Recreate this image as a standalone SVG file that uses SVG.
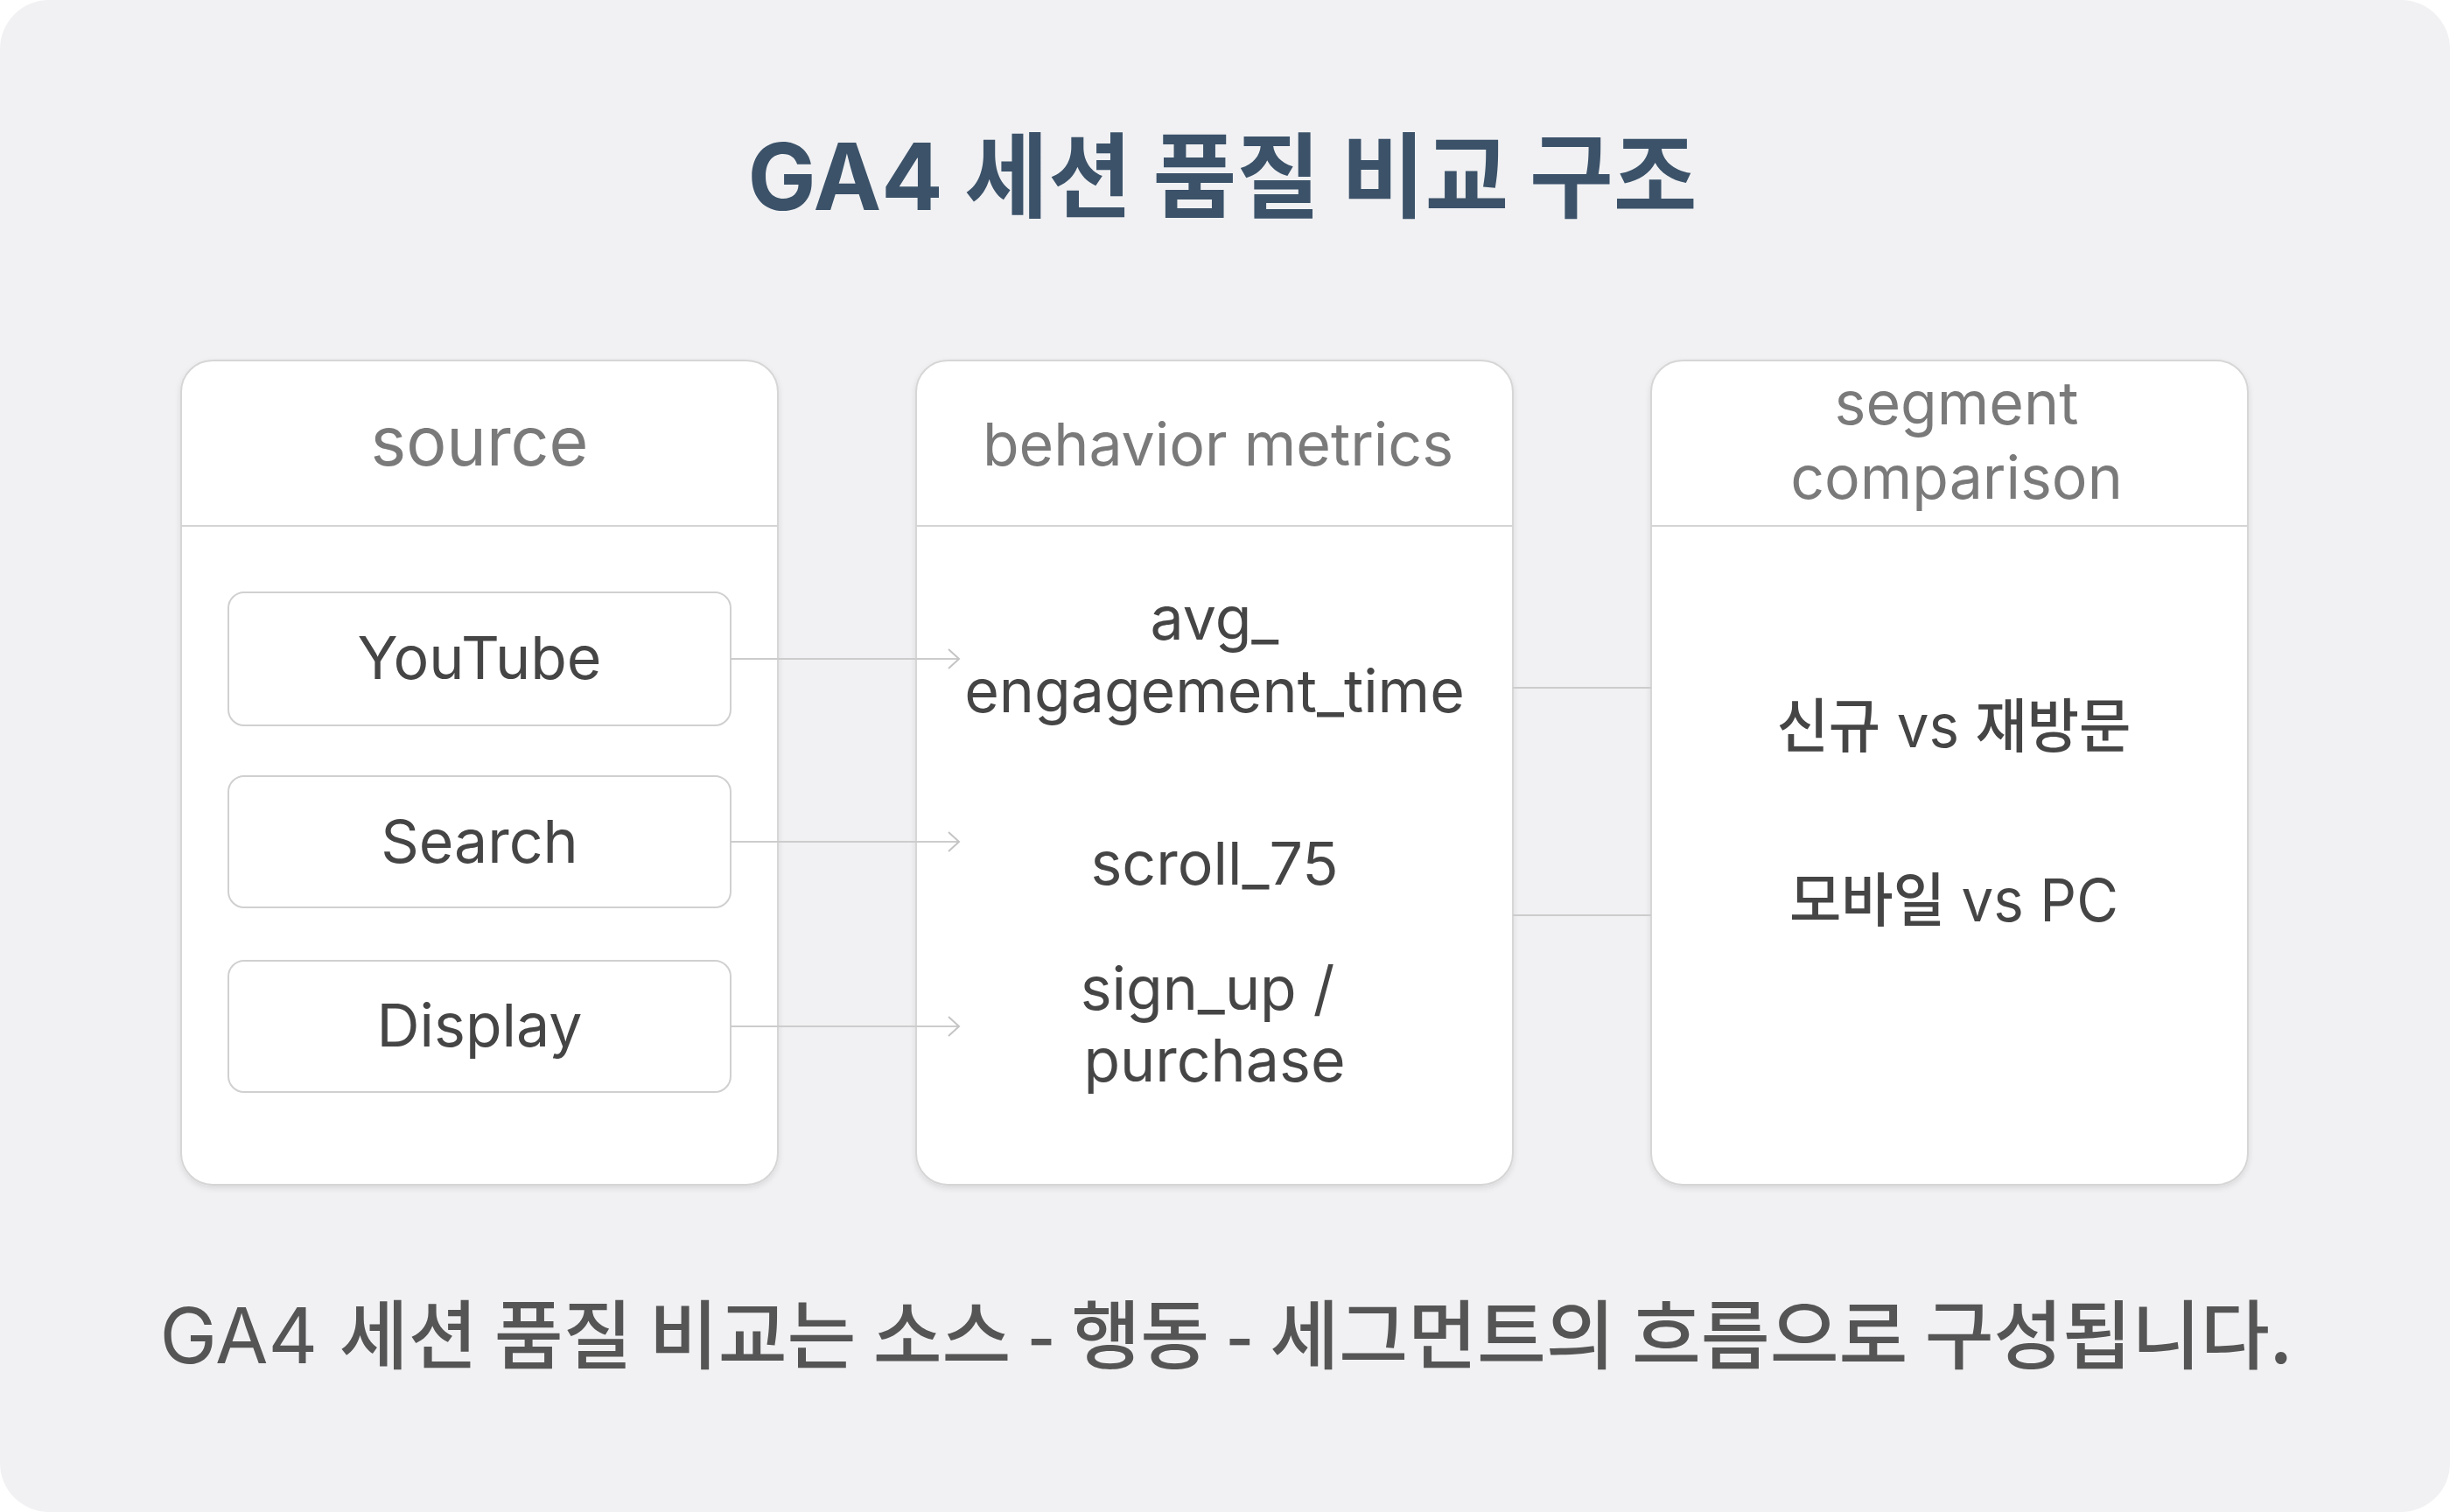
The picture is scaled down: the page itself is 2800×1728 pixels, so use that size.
<svg xmlns="http://www.w3.org/2000/svg" width="2800" height="1728" viewBox="0 0 2800 1728">
  <style>
    .t { font-family: "Inter", "Noto Sans CJK KR", sans-serif; }
    .ko { font-family: "Noto Sans CJK KR", sans-serif; }
    .km { font-weight: 500; }
    .title { font-size: 106px; font-weight: 700; fill: #3b5269; }
    .hdr { font-size: 68px; fill: #7a7a7a; }
    .hdr-lg { font-size: 77px; }
    .item { font-size: 68px; fill: #454545; }
    .foot { font-size: 88px; fill: #555555; }
    .col { fill: #ffffff; stroke: #d6d6d6; stroke-width: 2; }
    .div { stroke: #d4d4d4; stroke-width: 2; }
    .box { fill: #ffffff; stroke: #d0d0d0; stroke-width: 2; }
    .conn { stroke: #cccccc; stroke-width: 2; fill: none; }
  </style>
  <defs>
    <filter id="sh" x="-10%" y="-10%" width="120%" height="120%">
      <feDropShadow dx="0" dy="3" stdDeviation="3" flood-color="#000000" flood-opacity="0.10"/>
    </filter>
    <marker id="arr" markerUnits="userSpaceOnUse" markerWidth="20" markerHeight="30" refX="14" refY="12" orient="auto" viewBox="0 0 20 30">
      <path d="M2,1 L14,12 L2,23" fill="none" stroke="#c4c4c4" stroke-width="2"/>
    </marker>
  </defs>

  <rect x="0" y="0" width="2800" height="1728" rx="56" fill="#f1f1f3"/>

  <g id="title">
    <text class="t title" x="1397" y="240" text-anchor="middle" textLength="1085" lengthAdjust="spacingAndGlyphs">GA4 <tspan class="ko" font-size="106">세션 품질 비교 구조</tspan></text>
  </g>

  <g id="col-source">
    <rect class="col" x="207" y="412" width="682" height="942" rx="36" filter="url(#sh)"/>
    <line class="div" x1="207" y1="601" x2="889" y2="601"/>
    <text class="t hdr hdr-lg" x="548" y="532" text-anchor="middle">source</text>
  </g>
  <g id="node-youtube">
    <rect class="box" x="261" y="677" width="574" height="152" rx="18"/>
    <text class="t item" x="548" y="776" text-anchor="middle">YouTube</text>
  </g>
  <g id="node-search">
    <rect class="box" x="261" y="887" width="574" height="150" rx="18"/>
    <text class="t item" x="548" y="986" text-anchor="middle">Search</text>
  </g>
  <g id="node-display">
    <rect class="box" x="261" y="1098" width="574" height="150" rx="18"/>
    <text class="t item" x="548" y="1196" text-anchor="middle">Display</text>
  </g>

  <g id="col-behavior">
    <rect class="col" x="1047" y="412" width="682" height="942" rx="36" filter="url(#sh)"/>
    <line class="div" x1="1047" y1="601" x2="1729" y2="601"/>
    <text class="t hdr" x="1392" y="532" text-anchor="middle">behavior metrics</text>
    <text class="t item" x="1388" y="731" text-anchor="middle">avg_</text>
    <text class="t item" x="1388" y="814" text-anchor="middle">engagement_time</text>
    <text class="t item" x="1388" y="1011" text-anchor="middle">scroll_75</text>
    <text class="t item" x="1380" y="1154" text-anchor="middle">sign_up /</text>
    <text class="t item" x="1388" y="1236" text-anchor="middle">purchase</text>
  </g>

  <g id="col-segment">
    <rect class="col" x="1887" y="412" width="682" height="942" rx="36" filter="url(#sh)"/>
    <line class="div" x1="1887" y1="601" x2="2569" y2="601"/>
    <text class="t hdr" x="2236" y="485" text-anchor="middle">segment</text>
    <text class="t hdr" x="2236" y="570" text-anchor="middle">comparison</text>
    <text class="t item" x="2233" y="854" text-anchor="middle" textLength="405" lengthAdjust="spacingAndGlyphs"><tspan class="ko km" font-size="67">신규</tspan> vs <tspan class="ko km" font-size="67">재방문</tspan></text>
    <text class="t item" x="2233" y="1053" text-anchor="middle" textLength="376" lengthAdjust="spacingAndGlyphs"><tspan class="ko km" font-size="67">모바일</tspan> vs PC</text>
  </g>

  <g id="connectors">
    <line class="conn" x1="835" y1="753" x2="1096" y2="753" marker-end="url(#arr)"/>
    <line class="conn" x1="835" y1="962" x2="1096" y2="962" marker-end="url(#arr)"/>
    <line class="conn" x1="835" y1="1173" x2="1096" y2="1173" marker-end="url(#arr)"/>
    <line class="conn" x1="1729" y1="786" x2="1887" y2="786"/>
    <line class="conn" x1="1729" y1="1046" x2="1887" y2="1046"/>
  </g>

  <g id="footer">
    <text class="t foot" x="1401" y="1558" text-anchor="middle" textLength="2437" lengthAdjust="spacingAndGlyphs">GA4 <tspan class="ko km" font-size="86">세션 품질 비교는 소스 - 행동 - 세그먼트의 흐름으로 구성됩니다.</tspan></text>
  </g>
</svg>
